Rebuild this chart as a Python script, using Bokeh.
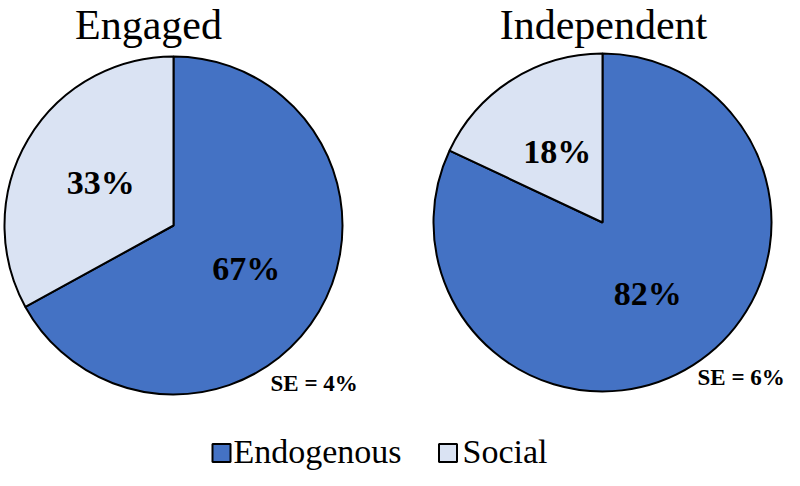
import math
from bokeh.plotting import figure
from bokeh.models import ColumnDataSource, Range1d
from bokeh.core.properties import value
from bokeh.embed import file_html
from bokeh.resources import INLINE

groups = ["Engaged", "Independent"]
categories = ["Endogenous", "Social"]
endogenous = [67, 82]
social = [33, 18]
se_labels = ["SE = 4%", "SE = 6%"]
colors = ["#4472C4", "#DAE3F3"]

W, H = 784, 470
p = figure(width=W, height=H, x_range=Range1d(0, W), y_range=Range1d(0, H),
           output_backend="svg", toolbar_location=None, min_border=0)
p.axis.visible = False
p.grid.visible = False
p.outline_line_color = None
p.background_fill_color = "white"

centers = [(173, 245), (602, 248)]
radius = 169
title_x = [148, 603]
title_y = 446
se_pos = [(270, 87.5), (697, 93.5)]
serif = value("Liberation Serif")

for gi, g in enumerate(groups):
    vals = [endogenous[gi], social[gi]]
    total = float(sum(vals))
    starts, ends, lx, ly, labels = [], [], [], [], []
    cum = 0.0
    cx, cy = centers[gi]
    for v in vals:
        a_end = math.pi / 2 - cum / total * 2 * math.pi
        a_start = math.pi / 2 - (cum + v) / total * 2 * math.pi
        starts.append(a_start)
        ends.append(a_end)
        mid = (a_start + a_end) / 2
        lx.append(cx + 0.5 * radius * math.cos(mid))
        ly.append(cy + 0.5 * radius * math.sin(mid))
        labels.append(f"{v}%")
        cum += v
    src = ColumnDataSource(dict(x=[cx, cx], y=[cy, cy], start=starts, end=ends,
                                color=colors, cat=categories, lx=lx, ly=ly, label=labels))
    p.wedge(x="x", y="y", radius=radius, start_angle="start", end_angle="end",
            fill_color="color", line_color="black", line_width=2, source=src)
    p.text(x="lx", y="ly", text="label", source=src, text_font=serif,
           text_font_size="34px", text_font_style="bold", text_align="center",
           text_baseline="middle", text_color="black")
    p.text(x=[title_x[gi]], y=[title_y], text=[g], text_font=serif, text_font_size="42px",
           text_align="center", text_baseline="middle", text_color="black")
    p.text(x=[se_pos[gi][0]], y=[se_pos[gi][1]], text=[se_labels[gi]], text_font=serif,
           text_font_size="23px", text_font_style="bold", text_align="left",
           text_baseline="middle", text_color="black")

# legend (drawn as swatches + serif text)
leg_sw_x = [221, 447.5]
leg_tx_x = [233, 462]
leg = ColumnDataSource(dict(sx=leg_sw_x, sy=[17.5, 17.5], tx=leg_tx_x, ty=[19, 19],
                            color=colors, cat=categories))
p.rect(x="sx", y="sy", width=18, height=18, fill_color="color", line_color="black",
       line_width=2, source=leg)
p.text(x="tx", y="ty", text="cat", source=leg, text_font=serif, text_font_size="34px",
       text_align="left", text_baseline="middle", text_color="black")

open("out.html", "w").write(file_html(p, INLINE))
